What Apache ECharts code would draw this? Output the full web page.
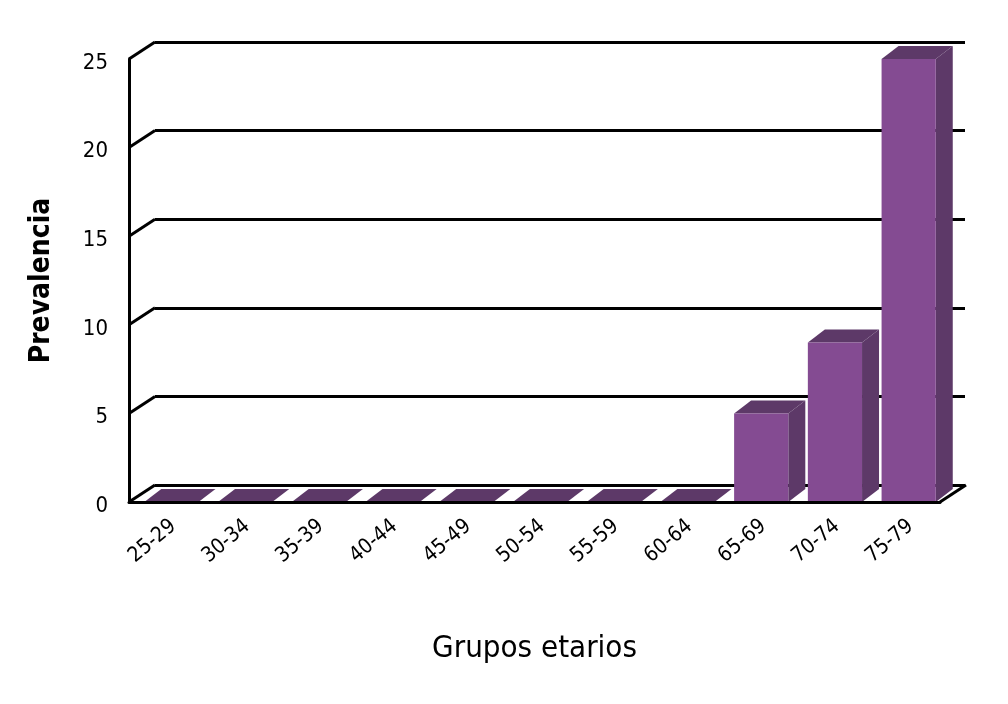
<!DOCTYPE html>
<html>
<head>
<meta charset="utf-8">
<script src="https://cdn.jsdelivr.net/npm/echarts@6/dist/echarts.min.js"></script>
<style>
html,body{margin:0;padding:0;background:#fff;}
#chart_prev{width:1008px;height:704px;}
</style>
</head>
<body>
<div id="chart_prev"></div>
<script>
// datos
var grupos = ['25-29','30-34','35-39','40-44','45-49','50-54','55-59','60-64','65-69','70-74','75-79'];
var prevalencia = [0, 0, 0, 0, 0, 0, 0, 0, 5, 9, 25];
var yTicks = [0, 5, 10, 15, 20, 25];

var fuente = '"Liberation Sans Narrow", "DejaVu Sans Condensed", sans-serif';
var colorFrente = '#844b92';
var colorOscuro = '#5d3968';
// profundidad de las paredes y de las barras
var paredDx = 26, paredDy = -17;
var barraDx = 17, barraDy = -13;

var chart_prev = echarts.init(document.getElementById('chart_prev'));

var option_prev = {
    backgroundColor: '#fff',
    animation: false,
    grid: [
        {left: 129, right: 68, top: 59, bottom: 202},   // plano frontal
        {left: 155, right: 43, top: 42, bottom: 219}    // pared del fondo
    ],
    xAxis: [
        {
            type: 'category',
            gridIndex: 0,
            data: grupos,
            name: 'Grupos etarios',
            nameLocation: 'middle',
            nameGap: 131,
            nameTextStyle: {fontFamily: fuente, fontSize: 31, color: '#000'},
            axisTick: {show: false},
            axisLine: {lineStyle: {color: '#000', width: 3}},
            axisLabel: {
                interval: 0,
                rotate: 40,
                margin: 28,
                padding: [0, -10, 0, 0],
                color: '#000',
                fontFamily: fuente,
                fontSize: 21
            },
            z: 10
        },
        {
            type: 'category',
            gridIndex: 1,
            data: grupos,
            show: false
        }
    ],
    yAxis: [
        {
            type: 'value',
            gridIndex: 0,
            min: 0,
            max: 25,
            interval: 5,
            name: 'Prevalencia',
            nameLocation: 'middle',
            nameRotate: 90,
            nameGap: 73,
            nameTextStyle: {fontFamily: fuente, fontSize: 28, fontWeight: 'bold', color: '#000'},
            splitLine: {show: false},
            axisTick: {show: false},
            axisLine: {show: true, lineStyle: {color: '#000', width: 3}},
            axisLabel: {margin: 21, verticalAlign: 'top', lineHeight: 8, color: '#000', fontFamily: fuente, fontSize: 22},
            z: 10
        },
        {
            type: 'value',
            gridIndex: 1,
            min: 0,
            max: 25,
            interval: 5,
            axisLine: {show: false},
            axisTick: {show: false},
            axisLabel: {show: false},
            splitLine: {show: true, lineStyle: {color: '#000', width: 3}}
        }
    ],
    series: [
        {
            // diagonales que unen el plano frontal con la pared
            type: 'custom',
            xAxisIndex: 0,
            yAxisIndex: 0,
            data: yTicks.map(function (v) { return [0, v]; }),
            z: 1,
            silent: true,
            renderItem: function (params, api) {
                var p = api.coord([0, api.value(1)]);
                var bw = api.size([1, 0])[0];
                var x0 = p[0] - bw / 2;
                var children = [{
                    type: 'line',
                    shape: {x1: x0, y1: p[1], x2: x0 + paredDx, y2: p[1] + paredDy},
                    style: {stroke: '#000', lineWidth: 3}
                }];
                if (api.value(1) === 0) {
                    var q = api.coord([grupos.length - 1, 0]);
                    var x1 = q[0] + bw / 2;
                    children.push({
                        type: 'line',
                        shape: {x1: x1, y1: q[1], x2: x1 + paredDx, y2: q[1] + paredDy},
                        style: {stroke: '#000', lineWidth: 3}
                    });
                }
                return {type: 'group', children: children};
            }
        },
        {
            // barras 3D
            type: 'custom',
            xAxisIndex: 0,
            yAxisIndex: 0,
            data: prevalencia.map(function (v, i) { return [i, v]; }),
            z: 5,
            renderItem: function (params, api) {
                var top = api.coord([api.value(0), api.value(1)]);
                var base = api.coord([api.value(0), 0]);
                var bw = api.size([1, 0])[0];
                var w = bw * 0.735;
                var cx = top[0] + bw * 0.075;
                var L = cx - w / 2, R = cx + w / 2;
                var yT = top[1], yB = base[1];
                return {
                    type: 'group',
                    children: [
                        {
                            type: 'polygon',
                            shape: {points: [[R, yT], [R + barraDx, yT + barraDy], [R + barraDx, yB + barraDy], [R, yB]]},
                            style: {fill: colorOscuro}
                        },
                        {
                            type: 'polygon',
                            shape: {points: [[L, yT], [R, yT], [R + barraDx, yT + barraDy], [L + barraDx, yT + barraDy]]},
                            style: {fill: colorOscuro}
                        },
                        {
                            type: 'rect',
                            shape: {x: L, y: yT, width: w, height: yB - yT},
                            style: {fill: colorFrente}
                        }
                    ]
                };
            }
        }
    ]
};
chart_prev.setOption(option_prev);
window.addEventListener('resize', function () {
    chart_prev.resize();
});
</script>
</body>
</html>
